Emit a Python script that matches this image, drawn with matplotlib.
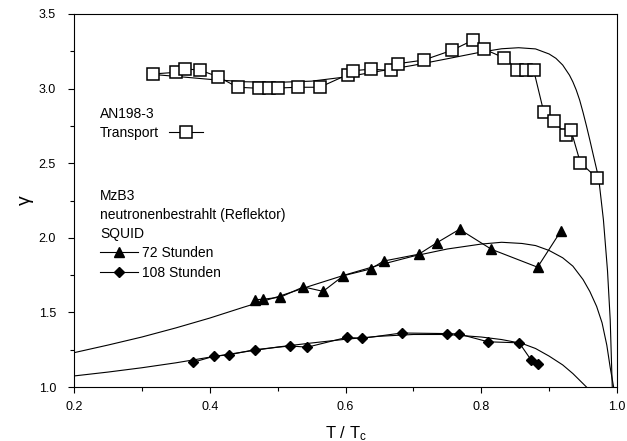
"""Anisotropy gamma versus reduced temperature (AN198-3 and MzB3)."""

import matplotlib

matplotlib.use("Agg")
import matplotlib.pyplot as plt
from matplotlib.ticker import MultipleLocator, FormatStrFormatter

plt.rcParams["font.family"] = ["Liberation Sans", "DejaVu Sans"]
plt.rcParams["mathtext.fontset"] = "custom"
plt.rcParams["mathtext.rm"] = "Liberation Sans"
plt.rcParams["mathtext.it"] = "Liberation Sans"

# AN198-3, transport measurement
transport_t = [0.316, 0.350, 0.364, 0.385, 0.412, 0.441, 0.473, 0.488, 0.501, 0.530,
               0.562, 0.603, 0.611, 0.637, 0.667, 0.677, 0.715, 0.757, 0.788, 0.804,
               0.834, 0.853, 0.866, 0.877, 0.892, 0.907, 0.925, 0.932, 0.946, 0.970]
transport_gamma = [3.098, 3.109, 3.131, 3.125, 3.080, 3.009, 3.002, 3.004, 3.004, 3.009,
                   3.009, 3.093, 3.120, 3.130, 3.122, 3.167, 3.191, 3.257, 3.325, 3.265,
                   3.205, 3.128, 3.128, 3.128, 2.845, 2.785, 2.689, 2.724, 2.504, 2.402]

# MzB3, SQUID, 72 h irradiation
h72_t = [0.466, 0.478, 0.504, 0.538, 0.567, 0.597, 0.637, 0.656, 0.708, 0.735,
         0.768, 0.815, 0.883, 0.917]
h72_gamma = [1.585, 1.588, 1.602, 1.671, 1.641, 1.746, 1.791, 1.844, 1.890, 1.968,
             2.057, 1.923, 1.803, 2.043]

# MzB3, SQUID, 108 h irradiation
h108_t = [0.375, 0.406, 0.429, 0.466, 0.518, 0.544, 0.602, 0.624, 0.683, 0.750,
          0.767, 0.810, 0.856, 0.873, 0.883]
h108_gamma = [1.165, 1.206, 1.216, 1.250, 1.275, 1.267, 1.333, 1.326, 1.362, 1.358,
              1.355, 1.303, 1.296, 1.184, 1.157]

# fitted curves
fit_transport_t = [0.316, 0.35, 0.40, 0.45, 0.50, 0.55, 0.60, 0.65, 0.70, 0.75, 0.80,
                   0.83, 0.855, 0.88, 0.90, 0.91, 0.92, 0.93, 0.935, 0.94, 0.945, 0.95,
                   0.955, 0.96, 0.965, 0.973, 0.980, 0.986, 0.990, 0.993]
fit_transport_gamma = [3.095, 3.082, 3.062, 3.046, 3.042, 3.050, 3.078, 3.117, 3.156,
                       3.200, 3.245, 3.267, 3.274, 3.266, 3.232, 3.203, 3.158, 3.090,
                       3.045, 2.990, 2.923, 2.840, 2.750, 2.655, 2.556, 2.400, 2.120,
                       1.780, 1.450, 1.000]
fit_72_t = [0.2, 0.25, 0.3, 0.35, 0.4, 0.45, 0.5, 0.55, 0.6, 0.65, 0.7, 0.75, 0.8, 0.83,
            0.86, 0.88, 0.90, 0.92, 0.935, 0.95, 0.96, 0.97, 0.978, 0.985, 0.99, 0.995]
fit_72_gamma = [1.230, 1.281, 1.335, 1.396, 1.462, 1.535, 1.605, 1.680, 1.752, 1.818,
                1.877, 1.925, 1.958, 1.970, 1.962, 1.948, 1.915, 1.866, 1.810, 1.720,
                1.640, 1.540, 1.430, 1.280, 1.130, 1.000]
fit_108_t = [0.2, 0.25, 0.3, 0.35, 0.4, 0.45, 0.5, 0.55, 0.6, 0.65, 0.7, 0.75, 0.8, 0.83,
             0.86, 0.88, 0.90, 0.92, 0.935, 0.945, 0.955]
fit_108_gamma = [1.074, 1.100, 1.129, 1.162, 1.200, 1.235, 1.268, 1.295, 1.320, 1.340,
                 1.352, 1.352, 1.335, 1.318, 1.292, 1.258, 1.207, 1.148, 1.090, 1.045,
                 1.000]


def main() -> None:
    fig = plt.figure(figsize=(6.27, 4.41), dpi=100)
    ax = fig.add_axes([74 / 627, 54 / 441, 543 / 627, 373 / 441])

    fit_style = dict(color="black", linewidth=0.8)
    ax.plot(fit_transport_t, fit_transport_gamma, **fit_style)
    ax.plot(fit_72_t, fit_72_gamma, **fit_style)
    ax.plot(fit_108_t, fit_108_gamma, **fit_style)

    transport, = ax.plot(transport_t, transport_gamma, color="black", linewidth=0.8,
                         marker="s", markersize=8.2, markerfacecolor="white",
                         markeredgecolor="black", markeredgewidth=1.1)
    h72, = ax.plot(h72_t, h72_gamma, color="black", linewidth=0.8, marker="^",
                   markersize=7, markerfacecolor="black", markeredgecolor="black")
    h108, = ax.plot(h108_t, h108_gamma, color="black", linewidth=0.8, marker="D",
                    markersize=5.5, markerfacecolor="black", markeredgecolor="black")

    ax.set_xlim(0.2, 1.0)
    ax.set_ylim(1.0, 3.5)
    ax.xaxis.set_major_locator(MultipleLocator(0.2))
    ax.xaxis.set_minor_locator(MultipleLocator(0.1))
    ax.yaxis.set_major_locator(MultipleLocator(0.5))
    ax.yaxis.set_minor_locator(MultipleLocator(0.25))
    ax.xaxis.set_major_formatter(FormatStrFormatter("%.1f"))
    ax.yaxis.set_major_formatter(FormatStrFormatter("%.1f"))
    ax.tick_params(which="both", direction="out", top=False, right=False,
                   width=0.8, labelsize=9)
    ax.tick_params(which="major", length=4)
    ax.tick_params(which="minor", length=3)
    ax.tick_params(axis="x", which="major", pad=6)
    ax.tick_params(axis="y", which="major", pad=9)
    for spine in ax.spines.values():
        spine.set_linewidth(0.8)

    ax.set_xlabel(r"T / T$_\mathrm{c}$", fontsize=12, labelpad=8)
    ax.set_ylabel("γ", fontsize=14, labelpad=3)

    ax.text(0.048, 0.732, "AN198-3", transform=ax.transAxes, fontsize=10, va="center")
    ax.text(0.048, 0.531, "MzB3\nneutronenbestrahlt (Reflektor)\nSQUID",
            transform=ax.transAxes, fontsize=10, va="top", linespacing=1.45)

    leg1 = ax.legend([transport], ["Transport"], loc="center left",
                     bbox_to_anchor=(0.048, 0.681), frameon=False, fontsize=10,
                     markerfirst=False, handlelength=2.45, handletextpad=0.7,
                     borderpad=0, borderaxespad=0)
    ax.add_artist(leg1)
    ax.legend([h72, h108], ["72 Stunden", "108 Stunden"], loc="center left",
              bbox_to_anchor=(0.048, 0.3324), frameon=False, fontsize=10,
              handlelength=2.74, handletextpad=0.25, labelspacing=0.45,
              borderpad=0, borderaxespad=0)

    fig.savefig("out.png", dpi=100)
    plt.close(fig)


if __name__ == "__main__":
    main()
